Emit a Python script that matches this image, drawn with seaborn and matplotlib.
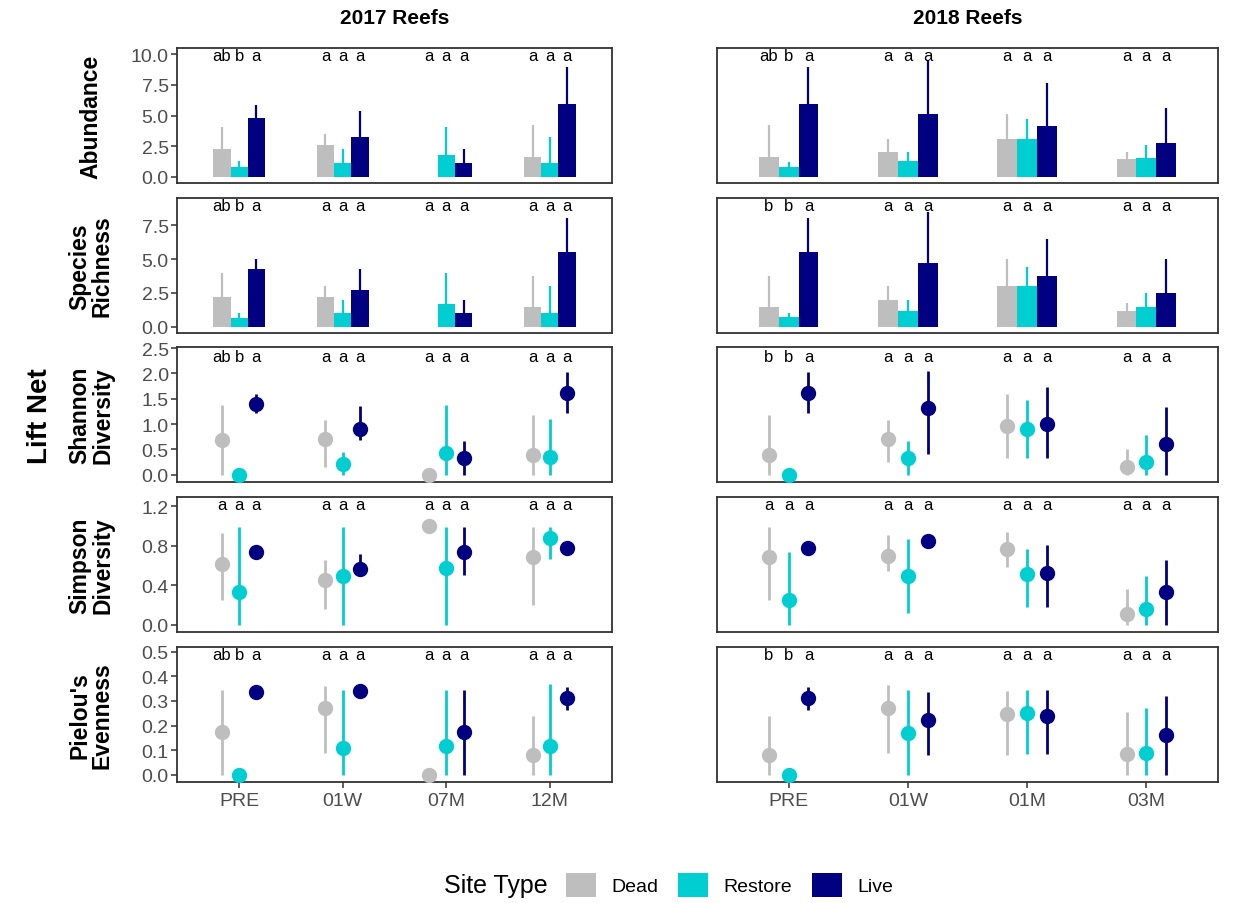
import numpy as np
import pandas as pd
import matplotlib
matplotlib.use("Agg")
import matplotlib.pyplot as plt
import seaborn as sns
from matplotlib.patches import Patch
from matplotlib import font_manager

# ---------------- data ----------------
sites = ["Dead", "Restore", "Live"]
site_colors = ["#BEBEBE", "#00CED1", "#000080"]
year_titles = ["2017 Reefs", "2018 Reefs"]
times_2017 = ["PRE", "01W", "07M", "12M"]
times_2018 = ["PRE", "01W", "01M", "03M"]

# Abundance (bar mean, upper error)
abund_mean_2017 = [[2.27, 0.79, 4.79], [2.58, 1.10, 3.23], [0.0, 1.75, 1.10], [1.64, 1.10, 5.95]]
abund_up_2017 = [[4.05, 1.31, 5.84], [3.50, 2.27, 5.34], [0.0, 4.05, 2.27], [4.25, 3.23, 8.99]]
abund_mean_2018 = [[1.62, 0.79, 5.95], [2.05, 1.31, 5.10], [3.10, 3.10, 4.16], [1.42, 1.53, 2.79]]
abund_up_2018 = [[4.25, 1.20, 8.99], [3.10, 2.05, 9.53], [5.10, 4.68, 7.64], [2.05, 2.58, 5.62]]

# Species richness
rich_mean_2017 = [[2.23, 0.62, 4.27], [2.23, 0.99, 2.73], [0.0, 1.66, 0.99], [1.49, 0.99, 5.51]]
rich_up_2017 = [[3.95, 0.99, 5.02], [2.98, 1.96, 4.27], [0.0, 3.95, 1.96], [3.77, 2.98, 8.00]]
rich_mean_2018 = [[1.49, 0.72, 5.51], [1.96, 1.19, 4.72], [2.98, 2.98, 3.77], [1.19, 1.49, 2.53]]
rich_up_2018 = [[3.77, 0.99, 8.00], [2.98, 1.96, 8.44], [5.02, 4.44, 6.46], [1.74, 2.53, 5.02]]

# Shannon diversity (mean, lower, upper)
shan_mean_2017 = [[0.68, 0.0, 1.40], [0.71, 0.22, 0.91], [0.0, 0.43, 0.33], [0.39, 0.35, 1.61]]
shan_lo_2017 = [[0.0, 0.0, 1.21], [0.16, 0.0, 0.68], [0.0, 0.0, 0.0], [0.0, 0.0, 1.21]]
shan_hi_2017 = [[1.38, 0.0, 1.60], [1.08, 0.45, 1.35], [0.0, 1.38, 0.67], [1.17, 1.09, 2.03]]
shan_mean_2018 = [[0.39, 0.0, 1.61], [0.71, 0.33, 1.31], [0.97, 0.91, 1.01], [0.16, 0.26, 0.61]]
shan_lo_2018 = [[0.0, 0.0, 1.21], [0.25, 0.0, 0.40], [0.33, 0.33, 0.33], [0.0, 0.0, 0.0]]
shan_hi_2018 = [[1.17, 0.0, 2.03], [1.08, 0.67, 2.05], [1.60, 1.47, 1.73], [0.50, 0.79, 1.33]]

# Simpson diversity
simp_mean_2017 = [[0.62, 0.33, 0.74], [0.45, 0.49, 0.56], [1.00, 0.57, 0.74], [0.69, 0.88, 0.78]]
simp_lo_2017 = [[0.25, 0.0, 0.72], [0.16, 0.0, 0.50], [1.00, 0.0, 0.50], [0.20, 0.67, 0.72]]
simp_hi_2017 = [[0.93, 0.99, 0.76], [0.66, 0.99, 0.72], [1.00, 0.99, 0.99], [0.99, 0.99, 0.84]]
simp_mean_2018 = [[0.69, 0.25, 0.78], [0.70, 0.49, 0.85], [0.77, 0.51, 0.52], [0.11, 0.16, 0.33]]
simp_lo_2018 = [[0.25, 0.0, 0.72], [0.54, 0.12, 0.82], [0.58, 0.18, 0.18], [0.0, 0.0, 0.0]]
simp_hi_2018 = [[0.99, 0.74, 0.84], [0.91, 0.87, 0.88], [0.94, 0.77, 0.81], [0.36, 0.49, 0.66]]

# Pielou's evenness
piel_mean_2017 = [[0.172, 0.0, 0.336], [0.27, 0.11, 0.34], [0.0, 0.115, 0.172], [0.079, 0.117, 0.314]]
piel_lo_2017 = [[0.0, 0.0, 0.33], [0.09, 0.0, 0.33], [0.0, 0.0, 0.0], [0.0, 0.0, 0.265]]
piel_hi_2017 = [[0.346, 0.0, 0.342], [0.361, 0.346, 0.35], [0.0, 0.346, 0.346], [0.24, 0.369, 0.357]]
piel_mean_2018 = [[0.079, 0.0, 0.314], [0.27, 0.169, 0.224], [0.247, 0.253, 0.238], [0.086, 0.09, 0.161]]
piel_lo_2018 = [[0.0, 0.0, 0.265], [0.09, 0.0, 0.079], [0.079, 0.083, 0.083], [0.0, 0.0, 0.0]]
piel_hi_2018 = [[0.24, 0.0, 0.357], [0.367, 0.346, 0.336], [0.34, 0.346, 0.346], [0.257, 0.272, 0.32]]

# Significance letters
aaa = ["a", "a", "a"]
letters_abund_2017 = [["ab", "b", "a"], aaa, aaa, aaa]
letters_abund_2018 = [["ab", "b", "a"], aaa, aaa, aaa]
letters_rich_2017 = [["ab", "b", "a"], aaa, aaa, aaa]
letters_rich_2018 = [["b", "b", "a"], aaa, aaa, aaa]
letters_shan_2017 = [["ab", "b", "a"], aaa, aaa, aaa]
letters_shan_2018 = [["b", "b", "a"], aaa, aaa, aaa]
letters_simp_2017 = [aaa, aaa, aaa, aaa]
letters_simp_2018 = [aaa, aaa, aaa, aaa]
letters_piel_2017 = [["ab", "b", "a"], aaa, aaa, aaa]
letters_piel_2018 = [["b", "b", "a"], aaa, aaa, aaa]

row_labels = ["Abundance", "Species\nRichness", "Shannon\nDiversity", "Simpson\nDiversity", "Pielou's\nEvenness"]

# ---------------- style ----------------
sns.set_theme(style="white")
names = {f.name for f in font_manager.fontManager.ttflist}
base = "Liberation Sans" if "Liberation Sans" in names else "DejaVu Sans"
narrow = "Liberation Sans Narrow" if "Liberation Sans Narrow" in names else base
plt.rcParams["font.family"] = [base, "DejaVu Sans"]
plt.rcParams["text.color"] = "black"

W, H = 1236, 904
fig = plt.figure(figsize=(W / 100, H / 100), dpi=100)
fig.patch.set_facecolor("white")

col_x = [(177, 612), (717, 1218)]
row_top = [49, 199, 348, 498, 648]
row_h = 135

rows = [
    dict(kind="bar", ylim=(-0.5, 10.5), ticks=[0, 2.5, 5, 7.5, 10], ly=9.9,
         data=[(abund_mean_2017, abund_up_2017, None, letters_abund_2017),
               (abund_mean_2018, abund_up_2018, None, letters_abund_2018)]),
    dict(kind="bar", ylim=(-0.45, 9.5), ticks=[0, 2.5, 5, 7.5], ly=8.95,
         data=[(rich_mean_2017, rich_up_2017, None, letters_rich_2017),
               (rich_mean_2018, rich_up_2018, None, letters_rich_2018)]),
    dict(kind="point", ylim=(-0.144, 2.52), ticks=[0, 0.5, 1, 1.5, 2, 2.5], ly=2.34,
         data=[(shan_mean_2017, shan_hi_2017, shan_lo_2017, letters_shan_2017),
               (shan_mean_2018, shan_hi_2018, shan_lo_2018, letters_shan_2018)]),
    dict(kind="point", ylim=(-0.075, 1.295), ticks=[0, 0.4, 0.8, 1.2], ly=1.22,
         data=[(simp_mean_2017, simp_hi_2017, simp_lo_2017, letters_simp_2017),
               (simp_mean_2018, simp_hi_2018, simp_lo_2018, letters_simp_2018)]),
    dict(kind="point", ylim=(-0.03, 0.52), ticks=[0, 0.1, 0.2, 0.3, 0.4, 0.5], ly=0.489,
         data=[(piel_mean_2017, piel_hi_2017, piel_lo_2017, letters_piel_2017),
               (piel_mean_2018, piel_hi_2018, piel_lo_2018, letters_piel_2018)]),
]
times_by_col = [times_2017, times_2018]
step = 0.5 / 3  # dodge step between site types

for r, cfg in enumerate(rows):
    for c in range(2):
        x0, x1 = col_x[c]
        top = row_top[r]
        ax = fig.add_axes([x0 / W, 1 - (top + row_h) / H, (x1 - x0) / W, row_h / H])
        times = times_by_col[c]
        mean, hi, lo, letters = cfg["data"][c]
        df = pd.DataFrame([
            dict(time=t, site=s, value=mean[i][j], hi=hi[i][j],
                 lo=(lo[i][j] if lo is not None else mean[i][j]))
            for i, t in enumerate(times) for j, s in enumerate(sites)
        ])
        if cfg["kind"] == "bar":
            sns.barplot(data=df, x="time", y="value", hue="site", order=times,
                        hue_order=sites, palette=site_colors, width=0.5, saturation=1,
                        errorbar=None, linewidth=0, legend=False, ax=ax, zorder=2)
            for i, t in enumerate(times):
                for j, s in enumerate(sites):
                    row = df[(df.time == t) & (df.site == s)].iloc[0]
                    if row.hi > row.value:
                        ax.vlines(i + (j - 1) * step, row.value, row.hi,
                                  color=site_colors[j], lw=1.6, zorder=1)
        else:
            for i, t in enumerate(times):
                for j, s in enumerate(sites):
                    row = df[(df.time == t) & (df.site == s)].iloc[0]
                    if row.hi > row.lo:
                        ax.vlines(i + (j - 1) * step, row.lo, row.hi,
                                  color=site_colors[j], lw=2.0, zorder=2)
            sns.pointplot(data=df, x="time", y="value", hue="site", order=times,
                          hue_order=sites, palette=site_colors, dodge=2 * step,
                          errorbar=None, linestyle="none", markers="o",
                          markersize=9, legend=False, ax=ax, zorder=3)
        # letters
        for i in range(len(times)):
            for j in range(3):
                ax.text(i + (j - 1) * step, cfg["ly"], letters[i][j], ha="center",
                        va="center", fontsize=12, color="black")
        ax.set_xlim(-0.6, 3.6)
        ax.set_ylim(*cfg["ylim"])
        ax.set_yticks(cfg["ticks"])
        ax.set_yticklabels([f"{v:.1f}" for v in cfg["ticks"]])
        ax.set_xlabel("")
        ax.set_ylabel("")
        for sp in ax.spines.values():
            sp.set_visible(True)
            sp.set_color("#333333")
            sp.set_linewidth(1.3)
        ax.tick_params(axis="y", length=4, width=1.1, color="#333333",
                       labelsize=14, labelcolor="#4D4D4D", pad=2, left=True)
        if c == 1:
            ax.tick_params(axis="y", left=False, labelleft=False)
        if r == len(rows) - 1:
            ax.tick_params(axis="x", length=4, width=1.1, color="#333333",
                           labelsize=14, labelcolor="#4D4D4D", pad=3, bottom=True)
        else:
            ax.tick_params(axis="x", bottom=False, labelbottom=False)
        if r == 0:
            fig.text((x0 + x1) / 2 / W, 1 - 18 / H, year_titles[c], ha="center",
                     va="center", fontsize=15, fontweight="bold", color="black")
    fig.text(91 / W, 1 - (row_top[r] + row_h / 2) / H, row_labels[r], rotation=90,
             ha="center", va="center", fontsize=16.5, fontweight="bold", color="black",
             family=[narrow, "DejaVu Sans"], multialignment="center", linespacing=1.0)

fig.text(40 / W, 1 - 416 / H, "Lift Net", rotation=90, ha="center", va="center",
         fontsize=20, fontweight="bold", color="black", family=[narrow, "DejaVu Sans"])

# legend
ly = 1 - 886 / H
fig.text(548 / W, ly, "Site Type", ha="right", va="center", fontsize=18, color="black")
handles = [Patch(facecolor=col, edgecolor="none") for col in site_colors]
leg = fig.legend(handles, sites, ncol=3, loc="center left", bbox_to_anchor=(566 / W, ly),
                 frameon=False, fontsize=14, handlelength=1.55, handleheight=1.6,
                 handletextpad=0.8, columnspacing=1.0, borderaxespad=0, borderpad=0)
for t in leg.get_texts():
    t.set_color("black")

fig.savefig("out.png", dpi=100, facecolor="white")
